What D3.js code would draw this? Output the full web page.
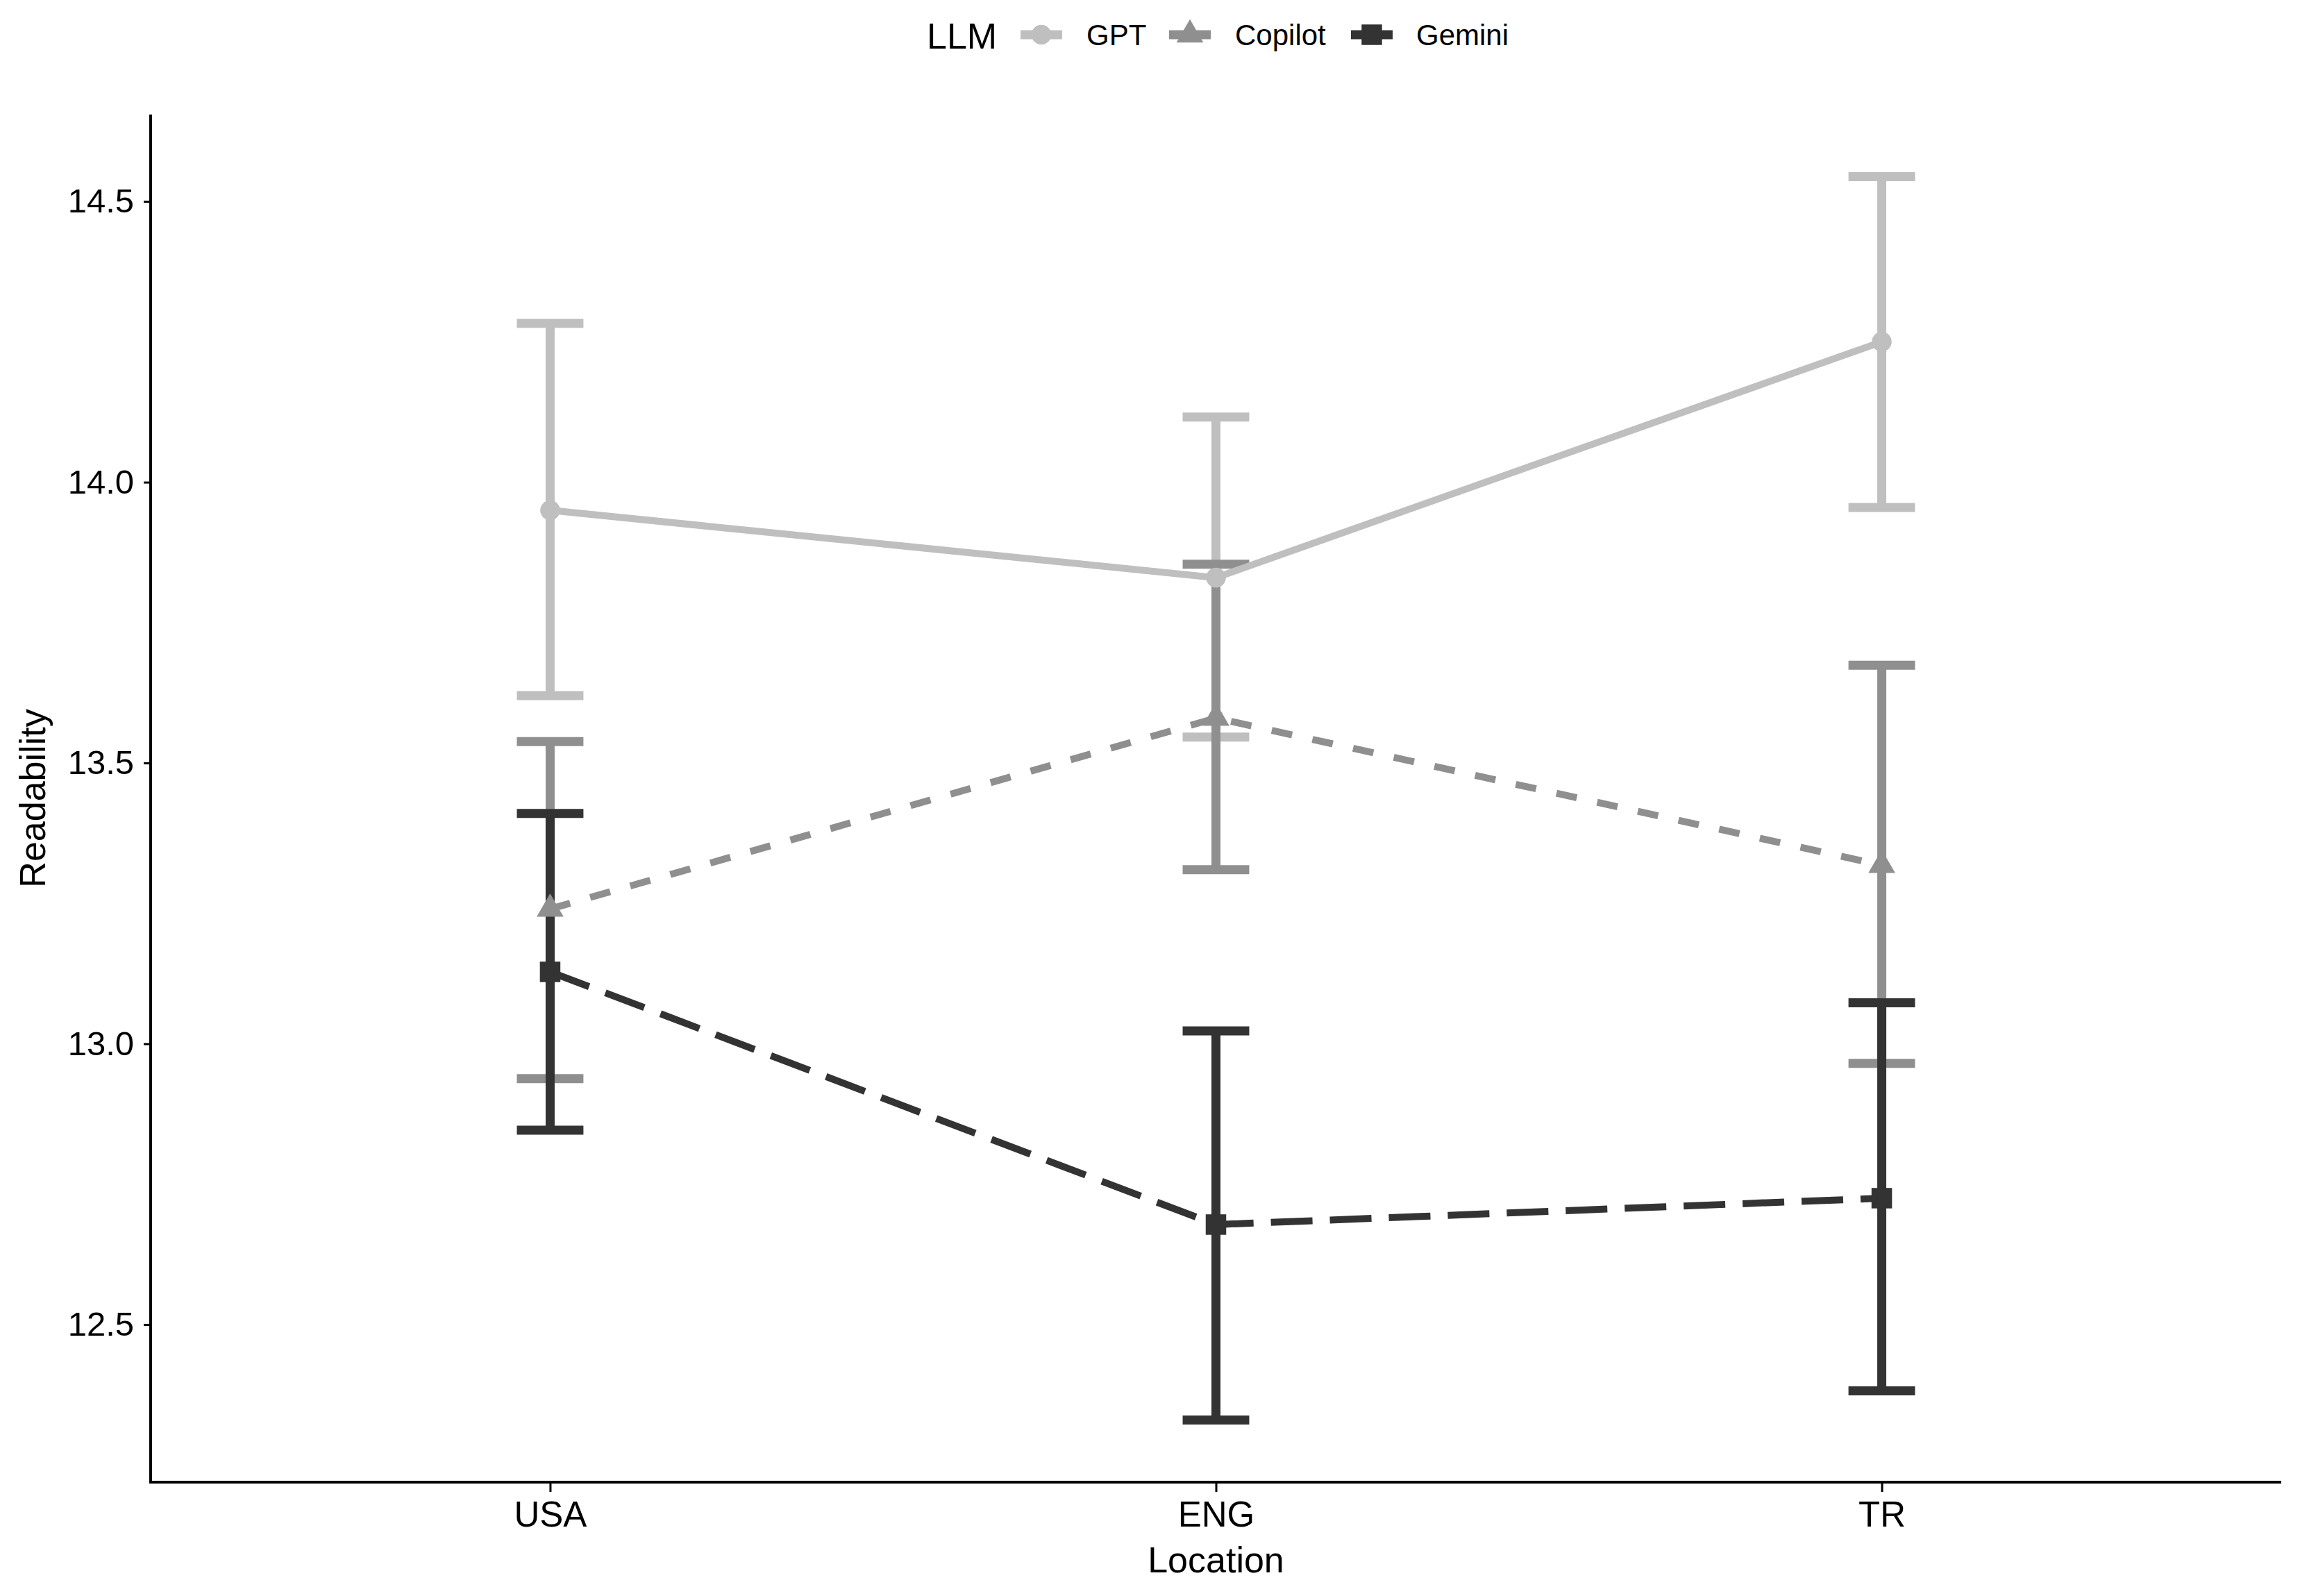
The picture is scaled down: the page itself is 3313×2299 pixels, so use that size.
<!DOCTYPE html>
<html>
<head>
<meta charset="utf-8">
<script src="https://cdn.jsdelivr.net/npm/d3@7.9.0/dist/d3.min.js"></script>
<style>
  body { margin: 0; background: #fff; }
  text { font-family: "Liberation Sans", Arial, Helvetica, sans-serif; fill: #000; }
</style>
</head>
<body>
<svg id="chart" width="3313" height="2299"></svg>
<script>
const locations = ['USA', 'ENG', 'TR'];
const llms = ['GPT', 'Copilot', 'Gemini'];

const gptMean = [13.95, 13.83, 14.25];
const gptLow = [13.62, 13.546, 13.955];
const gptHigh = [14.283, 14.116, 14.544];

const copilotMean = [13.24, 13.58, 13.318];
const copilotLow = [12.938, 13.31, 12.965];
const copilotHigh = [13.538, 13.854, 13.674];

const geminiMean = [13.128, 12.678, 12.725];
const geminiLow = [12.846, 12.33, 12.382];
const geminiHigh = [13.41, 13.023, 13.073];

const yTicks = [12.5, 13.0, 13.5, 14.0, 14.5];

const colors = { GPT: '#bfbfbf', Copilot: '#8f8f8f', Gemini: '#333333' };
const dashes = { GPT: null, Copilot: '30,30', Gemini: '60,25' };
const shapes = { GPT: d3.symbolCircle, Copilot: d3.symbolTriangle, Gemini: d3.symbolSquare };
const shapeSize = { GPT: 640, Copilot: 650, Gemini: 870 };

const series = [
  { name: 'GPT', mean: gptMean, low: gptLow, high: gptHigh },
  { name: 'Copilot', mean: copilotMean, low: copilotLow, high: copilotHigh },
  { name: 'Gemini', mean: geminiMean, low: geminiLow, high: geminiHigh }
];

const plotLeft = 217, plotRight = 3286, plotTop = 165, plotBottom = 2135;

// ggplot-style 5% expansion
const lo = d3.min(series, s => d3.min(s.low));
const hi = d3.max(series, s => d3.max(s.high));
const pad = (hi - lo) * 0.05;

const x = d3.scalePoint().domain(locations).range([plotLeft, plotRight]).padding(0.6);
const y = d3.scaleLinear().domain([lo - pad, hi + pad]).range([plotBottom, plotTop]);

const svg = d3.select('#chart');

// error bars
const capHalf = x.step() * 0.05;
series.forEach(s => {
  const g = svg.append('g').attr('stroke', colors[s.name]).attr('stroke-width', 13).attr('fill', 'none');
  locations.forEach((loc, i) => {
    g.append('line')
      .attr('x1', x(loc)).attr('x2', x(loc))
      .attr('y1', y(s.low[i])).attr('y2', y(s.high[i]));
    [s.low[i], s.high[i]].forEach(v => {
      g.append('line')
        .attr('x1', x(loc) - capHalf).attr('x2', x(loc) + capHalf)
        .attr('y1', y(v)).attr('y2', y(v));
    });
  });
});

// lines
const line = d3.line().x(d => x(d.loc)).y(d => y(d.v));
series.forEach(s => {
  svg.append('path')
    .datum(locations.map((loc, i) => ({ loc, v: s.mean[i] })))
    .attr('d', line)
    .attr('fill', 'none')
    .attr('stroke', colors[s.name])
    .attr('stroke-width', 10)
    .attr('stroke-dasharray', dashes[s.name]);
});

// points
series.forEach(s => {
  locations.forEach((loc, i) => {
    svg.append('path')
      .attr('d', d3.symbol().type(shapes[s.name]).size(shapeSize[s.name])())
      .attr('transform', `translate(${x(loc)},${y(s.mean[i])})`)
      .attr('fill', colors[s.name]);
  });
});

// axes
const yAxis = svg.append('g')
  .attr('transform', `translate(${plotLeft},0)`)
  .call(d3.axisLeft(y).tickValues(yTicks).tickFormat(d3.format('.1f')).tickSize(10).tickPadding(14));
const xAxis = svg.append('g')
  .attr('transform', `translate(0,${plotBottom})`)
  .call(d3.axisBottom(x).tickSize(14).tickPadding(14));

[yAxis, xAxis].forEach(ax => {
  ax.select('.domain').remove();
  ax.selectAll('.tick line').attr('stroke', '#000').attr('stroke-width', 3);
  ax.selectAll('.tick text').attr('font-size', 49).attr('fill', '#000')
    .style('font-family', '"Liberation Sans", Arial, sans-serif');
});
xAxis.selectAll('.tick text').attr('dy', '0.71em').attr('font-size', 51);

svg.append('line').attr('x1', plotLeft).attr('x2', plotLeft).attr('y1', plotTop).attr('y2', plotBottom + 2)
  .attr('stroke', '#000').attr('stroke-width', 4);
svg.append('line').attr('x1', plotLeft - 2).attr('x2', plotRight).attr('y1', plotBottom).attr('y2', plotBottom)
  .attr('stroke', '#000').attr('stroke-width', 4);

// axis titles
svg.append('text')
  .attr('x', (plotLeft + plotRight) / 2).attr('y', 2265)
  .attr('text-anchor', 'middle').attr('font-size', 52)
  .text('Location');
svg.append('text')
  .attr('transform', `translate(65,${(plotTop + plotBottom) / 2}) rotate(-90)`)
  .attr('text-anchor', 'middle').attr('font-size', 52)
  .text('Readability');

// legend
const legend = svg.append('g');
legend.append('text').attr('x', 1335).attr('y', 70).attr('font-size', 52).text('LLM');
const keyX = [1470, 1684, 1946];
const labelX = [1565, 1779, 2040];
llms.forEach((name, i) => {
  const cx = keyX[i] + 30, cy = 50;
  legend.append('line')
    .attr('x1', keyX[i]).attr('x2', keyX[i] + 60).attr('y1', cy).attr('y2', cy)
    .attr('stroke', colors[name]).attr('stroke-width', 13);
  legend.append('path')
    .attr('d', d3.symbol().type(shapes[name]).size(shapeSize[name])())
    .attr('transform', `translate(${cx},${cy})`)
    .attr('fill', colors[name]);
  legend.append('text')
    .attr('x', labelX[i]).attr('y', 65).attr('font-size', 42)
    .text(name);
});
</script>
</body>
</html>
